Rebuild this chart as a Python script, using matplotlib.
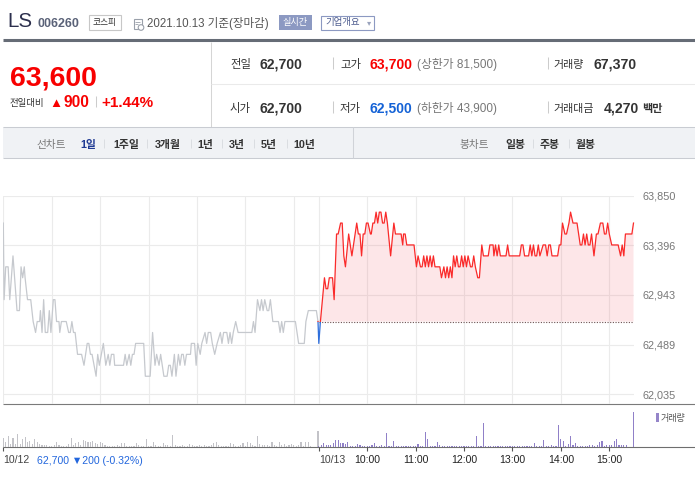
import numpy as np
import matplotlib
matplotlib.use('Agg')
import matplotlib.pyplot as plt
from matplotlib.patches import Rectangle, Circle

plt.rcParams['font.family'] = ['Liberation Sans', 'Noto Sans CJK KR', 'DejaVu Sans']

# ---- data: LS (006260), 1-day minute chart, 10/12 + 10/13 ----
PREV_CLOSE = 62700
Y_TICKS = np.linspace(62035, 63850, 5)
DAY2_OFFSET = 391  # minutes, day 2 09:00 on the shared axis

# 10/12 (minutes after 09:00, price)
day1_min = [0, 1, 3, 6, 8, 12, 17, 20, 22, 24, 26, 27, 30, 34, 37, 40, 42, 45, 46, 48,
            50, 52, 55, 57, 59, 62, 64, 66, 69, 70, 72, 78, 81, 83, 85, 87, 89, 92, 97, 100,
            104, 106, 108, 110, 115, 117, 119, 124, 127, 130, 132, 134, 137, 138, 149, 151,
            153, 156, 158, 160, 162, 164, 174, 176, 182, 185, 188, 190, 193, 195, 197, 199,
            203, 205, 207, 209, 212, 214, 217, 219, 221, 223, 225, 227, 232, 233, 237, 239,
            241, 244, 246, 250, 252, 254, 257, 259, 262, 265, 269, 271, 273, 277, 279, 281,
            283, 285, 288, 291, 308, 310, 312, 315, 318, 320, 322, 324, 327, 329, 331, 334,
            341, 343, 345, 347, 349, 362, 366, 373, 375, 378, 388, 390]
day1_price = [63600, 62900, 63200, 63200, 62900, 63300, 62800, 62800, 63200, 63100, 63200,
              63100, 62900, 62900, 62700, 62600, 62700, 62700, 62800, 62600, 62900, 62600,
              62600, 62800, 62600, 62900, 62900, 62700, 62700, 62600, 62700, 62700, 62600,
              62600, 62700, 62600, 62600, 62400, 62400, 62300, 62500, 62500, 62400, 62400,
              62200, 62400, 62300, 62500, 62300, 62400, 62300, 62400, 62400, 62300, 62300,
              62400, 62300, 62400, 62300, 62400, 62400, 62500, 62500, 62200, 62200, 62600,
              62300, 62400, 62300, 62400, 62300, 62200, 62200, 62300, 62300, 62200, 62400,
              62200, 62400, 62300, 62400, 62400, 62300, 62400, 62400, 62500, 62500, 62300,
              62500, 62400, 62500, 62600, 62500, 62600, 62600, 62500, 62400, 62500, 62600,
              62500, 62600, 62600, 62500, 62600, 62500, 62600, 62700, 62600, 62600, 62700,
              62600, 62900, 62800, 62900, 62800, 62900, 62800, 62800, 62900, 62700, 62700,
              62600, 62700, 62600, 62700, 62700, 62500, 62500, 62700, 62800, 62800, 62700]

# 10/13
day2_min = [0, 2, 7, 9, 11, 13, 17, 19, 22, 24, 27, 29, 31, 33, 37, 41, 47, 49, 51, 53, 55,
            57, 59, 61, 64, 65, 67, 69, 71, 73, 75, 77, 79, 81, 83, 85, 89, 93, 95, 102, 104,
            105, 107, 109, 118, 121, 123, 126, 128, 130, 132, 134, 136, 138, 140, 142, 144,
            150, 152, 155, 157, 159, 161, 163, 165, 167, 169, 171, 173, 175, 177, 179, 181,
            183, 185, 188, 190, 192, 194, 197, 199, 202, 204, 210, 212, 216, 217, 219, 221,
            223, 225, 232, 234, 236, 249, 251, 253, 255, 260, 262, 264, 266, 268, 270, 272,
            274, 278, 281, 283, 285, 287, 289, 296, 298, 300, 302, 305, 307, 310, 312, 315,
            320, 324, 326, 328, 330, 332, 334, 336, 338, 341, 344, 346, 349, 352, 354, 356,
            358, 360, 363, 371, 374, 376, 378, 380, 388, 390]
day2_price = [62500, 62700, 63100, 63000, 63000, 63100, 63100, 62900, 63500, 63500, 63600,
              63600, 63300, 63200, 63500, 63300, 63600, 63500, 63500, 63300, 63500, 63500,
              63600, 63600, 63500, 63500, 63600, 63600, 63700, 63600, 63700, 63700, 63600,
              63600, 63700, 63600, 63300, 63600, 63500, 63500, 63400, 63500, 63500, 63400,
              63400, 63200, 63300, 63200, 63200, 63300, 63200, 63300, 63200, 63300, 63200,
              63300, 63200, 63200, 63100, 63200, 63100, 63200, 63100, 63200, 63100, 63300,
              63200, 63300, 63200, 63200, 63300, 63200, 63300, 63200, 63300, 63200, 63200,
              63300, 63200, 63100, 63100, 63400, 63300, 63300, 63400, 63400, 63300, 63400,
              63300, 63400, 63300, 63300, 63400, 63300, 63300, 63400, 63400, 63300, 63300,
              63400, 63300, 63400, 63300, 63300, 63400, 63300, 63400, 63400, 63300, 63400,
              63400, 63300, 63300, 63400, 63400, 63600, 63500, 63500, 63600, 63700, 63600,
              63600, 63400, 63400, 63500, 63400, 63500, 63400, 63400, 63500, 63300, 63500,
              63500, 63600, 63600, 63500, 63500, 63600, 63500, 63400, 63400, 63300, 63400,
              63300, 63500, 63500, 63600]

# volume, 3-minute buckets from 09:00, plus closing auction
day1_vol = [1330, 690, 1560, 460, 1330, 460, 1840, 460, 1200, 1470,
            690, 870, 460, 1150, 780, 460, 370, 320, 320, 230,
            230, 370, 740, 320, 230, 230, 230, 410, 1290, 280,
            640, 780, 280, 970, 920, 740, 740, 830, 640, 460,
            740, 550, 370, 230, 230, 230, 230, 370, 180, 640,
            550, 230, 180, 180, 230, 550, 280, 140, 180, 1100,
            230, 180, 690, 370, 180, 180, 550, 370, 280, 230,
            1660, 280, 230, 230, 280, 230, 180, 460, 370, 180,
            180, 280, 180, 280, 180, 230, 280, 550, 740, 280,
            180, 230, 180, 230, 550, 460, 230, 180, 280, 550,
            230, 690, 550, 280, 230, 1520, 460, 280, 370, 320,
            230, 740, 280, 230, 740, 370, 460, 230, 370, 460,
            280, 230, 280, 740, 230, 740, 740, 230]
day1_close_vol = 2250
day2_vol = [140, 370, 550, 370, 370, 370, 640, 1060, 1060, 550,
            640, 460, 780, 230, 140, 140, 510, 370, 230, 140,
            230, 140, 370, 640, 140, 140, 370, 140, 2020, 140,
            230, 920, 230, 230, 230, 140, 140, 230, 140, 230,
            140, 510, 140, 140, 2160, 1200, 140, 230, 140, 780,
            370, 230, 230, 140, 230, 140, 140, 140, 140, 140,
            140, 140, 140, 140, 140, 1610, 140, 140, 3400, 140,
            230, 140, 140, 140, 140, 140, 140, 140, 140, 230,
            140, 140, 140, 140, 140, 140, 140, 140, 140, 640,
            140, 140, 140, 1060, 140, 140, 370, 230, 230, 3130,
            1200, 920, 230, 510, 1610, 370, 640, 230, 140, 230,
            230, 230, 370, 370, 230, 370, 780, 920, 230, 370,
            370, 370, 920, 1200, 370, 370, 370, 370]
day2_close_vol = 4920

x_tick_min = [0, 391, 451, 511, 571, 631, 691, 751]
x_tick_lab = ['10/12', '10/13', '10:00', '11:00', '12:00', '13:00', '14:00', '15:00']
grid_min = [0, 60, 120, 180, 240, 300, 360, 391, 451, 511, 571, 631, 691, 751]

RED = '#f80000'
BLUE = '#1462d6'
GRID = '#ebebeb'

W, H = 695, 478
fig = plt.figure(figsize=(W / 100, H / 100), dpi=100)


def px_axes(x0, y0, x1, y1):
    return fig.add_axes([x0 / W, 1 - y1 / H, (x1 - x0) / W, (y1 - y0) / H])


# ---- page chrome in pixel coordinates ----
bg = fig.add_axes([0, 0, 1, 1])
bg.set_xlim(0, W)
bg.set_ylim(H, 0)
bg.axis('off')


def put(x, y, s, size, color='#333333', weight='normal', ha='left', va='baseline', **kw):
    bg.text(x, y, s, fontsize=size, color=color, fontweight=weight, ha=ha, va=va, **kw)


def hline(y, x0, x1, color, lw=0.75):
    bg.plot([x0, x1], [y, y], color=color, lw=lw, solid_capstyle='butt')


def vline(x, y0, y1, color, lw=0.75):
    bg.plot([x, x], [y0, y1], color=color, lw=lw, solid_capstyle='butt')


# title row
put(7, 27, 'LS', 14.8, color='#2c2f4d')
put(38, 27, '006260', 9, color='#5a6278', weight='bold')
bg.add_patch(Rectangle((88.5, 14.5), 32, 15, fc='white', ec='#c7c7c7', lw=0.8))
put(104.5, 22.5, '코스피', 6.3, ha='center', va='center')
bg.add_patch(Rectangle((133.5, 18.5), 8, 10, fill=False, ec='#9aa0aa', lw=0.8))
hline(21.5, 135, 140, '#9aa0aa', 0.6)
hline(24, 135, 138, '#9aa0aa', 0.6)
bg.add_patch(Circle((141, 27.5), 2.8, fc='white', ec='#9aa0aa', lw=0.8))
put(147, 27, '2021.10.13 기준(장마감)', 8.3, color='#555555')
bg.add_patch(Rectangle((279, 15), 33, 15, fc='#8c99c2', ec='none'))
put(295.5, 22.5, '실시간', 6.6, color='white', ha='center', va='center')
bg.add_patch(Rectangle((320.5, 15.5), 53, 14.5, fc='white', ec='#8c99c2', lw=0.8))
put(325, 22.5, '기업개요', 6.8, color='#4d5c8f', va='center')
put(369, 22.5, '▾', 6, color='#9aa3bd', ha='center', va='center', family='DejaVu Sans')

hline(40, 3, W, '#666c76', 2.2)

# quote panel
vline(211, 41.5, 127, '#d5d5d5')
hline(84, 211, W, '#eaeaea')
put(10, 85, '63,600', 20.5, color=RED, weight='bold')
put(10, 105.5, '전일대비', 6.8)
put(49, 106.5, '▲', 9.5, color=RED)
put(63, 106.5, '900', 11.2, color=RED, weight='bold')
vline(96, 96, 107, '#cccccc')
put(101, 106.5, '+1.44%', 11, color=RED, weight='bold')

rows = [
    (68, '전일', '62,700', '고가', '63,700', RED, '(상한가 81,500)', '거래량', '67,370', ''),
    (112, '시가', '62,700', '저가', '62,500', BLUE, '(하한가 43,900)', '거래대금', '4,270', '백만'),
]
for base, l1, v1, l2, v2, c2, lim, l3, v3, unit in rows:
    put(230, base, l1, 8.2)
    put(260, base, v1, 10.1, weight='bold')
    vline(333, base - 11, base + 1, '#cccccc')
    put(340, base, l2, 8.2)
    put(370, base, v2, 10.1, color=c2, weight='bold')
    put(417, base, lim, 8.5, color='#777777')
    vline(548, base - 11, base + 1, '#cccccc')
    put(553, base, l3, 7.9)
    put(594 if not unit else 604, base, v3, 10.1, weight='bold')
    if unit:
        put(642, base, unit, 8, weight='bold')

# tab bar
bg.add_patch(Rectangle((3, 127), W - 3, 31, fc='#f0f2f5', ec='none'))
hline(127, 3, W, '#c9ccd2')
hline(158, 3, W, '#c9ccd2')
vline(353, 127, 158, '#d0d3d8')
put(36, 148, '선차트', 7.7, color='#777777')
line_tabs = [(80, '1일'), (113, '1주일'), (155, '3개월'), (197, '1년'), (229, '3년'),
             (261, '5년'), (293, '10년')]
for i, (x, s) in enumerate(line_tabs):
    put(x, 148, s, 7.8, color='#1f3a93' if i == 0 else '#333333', weight='bold')
for x in [104, 147, 191, 222, 254, 287, 533, 569]:
    vline(x, 139, 148, '#d6d9de', 0.6)
put(459, 148, '봉차트', 7.7, color='#777777')
for x, s in [(505, '일봉'), (540, '주봉'), (576, '월봉')]:
    put(x, 148, s, 7.8, weight='bold')

# pane separators and volume legend
hline(404.3, 3.3, W, '#7a7a7a', 0.8)
hline(447.3, 3.3, W, '#6e6e6e', 0.8)
bg.add_patch(Rectangle((656, 413), 2.5, 9, fc='#9585c9', ec='none'))
put(661, 418, '거래량', 6.5, color='#555555', va='center')
put(37, 464, '62,700 ▼200 (-0.32%)', 7.6, color='#2266dd')

# ---- price pane ----
ax = px_axes(3.3, 195.7, 633.5, 404.3)
ax.set_facecolor('none')
ax.set_xlim(0, 781)
val_per_px = (Y_TICKS[-1] - Y_TICKS[0]) / (394.3 - 195.7)
ax.set_ylim(Y_TICKS[0] - 10 * val_per_px, Y_TICKS[-1])
for t in grid_min:
    ax.axvline(t, color=GRID, lw=0.8, zorder=0)
for v in Y_TICKS:
    ax.axhline(v, color=GRID, lw=0.8, zorder=0)

t1 = np.array(day1_min)
p1 = np.array(day1_price)
ax.plot(t1, p1, color='#c6c9ce', lw=0.9, zorder=3)

t2 = np.concatenate([[t1[-1]], DAY2_OFFSET + np.array(day2_min)])
p2 = np.concatenate([[p1[-1]], day2_price])
ax.fill_between(t2, p2, PREV_CLOSE, where=p2 >= PREV_CLOSE, interpolate=True,
                color='#f46b78', alpha=0.17, lw=0, zorder=2)
ax.hlines(PREV_CLOSE, DAY2_OFFSET, t2[-1], colors='#6b5050', lw=0.8,
          linestyles=(0, (1, 1.4)), zorder=3)
red_line, = ax.plot(t2, p2, color='#fa2a2a', lw=0.9, zorder=4)
blue_line, = ax.plot(t2, p2, color='#2f6fdc', lw=0.9, zorder=4)
red_line.set_clip_path(Rectangle((0, PREV_CLOSE), 800, 5000, transform=ax.transData))
blue_line.set_clip_path(Rectangle((0, PREV_CLOSE - 5000), 800, 5000, transform=ax.transData))

ax.yaxis.tick_right()
ax.set_yticks(Y_TICKS)
ax.set_yticklabels([f'{int(np.floor(v + 0.5)):,}' for v in Y_TICKS])
ax.tick_params(axis='y', length=0, pad=6.6, labelsize=7.8, labelcolor='#777777')
ax.set_xticks([])
for s in ax.spines.values():
    s.set_visible(False)

# ---- volume pane ----
axv = px_axes(3.3, 404.3, 633.5, 447.3)
axv.set_facecolor('none')
axv.set_xlim(0, 781)
axv.set_ylim(0, 5930)
xv1 = np.append(3 * np.arange(len(day1_vol)), t1[-1])
xv2 = DAY2_OFFSET + np.append(3 * np.arange(len(day2_vol)), day2_min[-1])
axv.bar(xv1, day1_vol + [day1_close_vol], width=1.4, color='#c3c3c8', lw=0,
        clip_on=False, antialiased=False)
axv.bar(xv2, day2_vol + [day2_close_vol], width=1.4, color='#9080c8', lw=0,
        clip_on=False, antialiased=False)
axv.set_yticks([])
axv.set_xticks(x_tick_min, x_tick_lab)
axv.tick_params(axis='x', direction='out', length=3, width=0.8, color='#555555',
                pad=2.2, labelsize=7.6, labelcolor='#222222')
for i, lab in enumerate(axv.get_xticklabels()):
    if i < 2:
        lab.set_ha('left')
        lab.set_color('#444444')
for s in axv.spines.values():
    s.set_visible(False)

fig.savefig('out.png', dpi=100)
